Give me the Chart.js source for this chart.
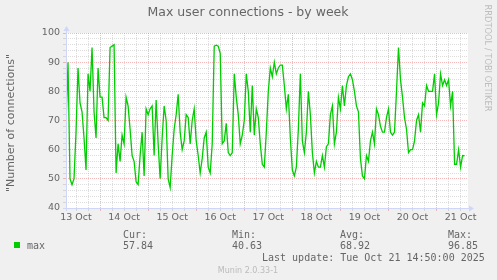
<!DOCTYPE html>
<html>
<head>
<meta charset="utf-8">
<script src="https://cdn.jsdelivr.net/npm/chart.js@4.4.0/dist/chart.umd.min.js"></script>
<style>
  html, body { margin: 0; padding: 0; background: #f0f0f0; }
  #wrap { position: relative; width: 497px; height: 280px; }
</style>
</head>
<body>
<div id="wrap"><canvas id="chart" width="497" height="280"></canvas></div>
<script>
const chartTitle = 'Max user connections - by week';
const yTitle = '"Number of connections"';
const dayLabels = ['13 Oct', '14 Oct', '15 Oct', '16 Oct', '17 Oct', '18 Oct', '19 Oct', '20 Oct', '21 Oct'];

// hourly samples, hours counted from 13 Oct 00:00
const startHour = 7;
const maxValues = [
  68, 90, 50, 48, 50, 66, 88, 76, 73, 64, 53, 86, 80, 95, 73, 64, 88,
  78, 78, 71, 71, 70, 95, 95.5, 96, 52, 62, 56, 65, 62, 78, 75, 67, 58, 56, 49, 48, 58, 66, 51, 74,
  72, 74, 75, 58, 77, 62, 50, 64, 75, 70, 50, 47, 58, 67, 72, 79, 66, 60, 63, 72, 71, 62, 70, 74,
  63, 58, 52, 57, 64, 66, 54, 52, 62, 95.5, 95.8, 95.5, 93, 62, 63, 69, 59, 58, 59, 86, 78, 72, 62, 65,
  70, 86, 80, 66, 82, 65, 74, 71, 62, 55, 54, 66, 80, 88, 85, 90, 86, 88, 89, 89, 82, 74, 79, 64,
  53, 51, 54, 67, 86, 63, 59, 66, 80, 72, 59, 52, 56, 54, 54, 58, 54, 61, 62, 72, 75, 62, 66, 78,
  74, 82, 75, 82, 85, 86, 84, 80, 75, 73, 57, 51, 50, 58, 56, 63, 66, 62, 74, 72, 68, 66, 66, 71,
  74, 66, 65, 66, 80, 95, 84, 78, 71, 67, 59, 60, 60, 63, 70, 72, 66, 76, 75, 82, 80, 80, 80, 86,
  72, 76, 86, 82, 84, 82, 84, 75, 80, 55, 55, 60, 54, 58, 57.84
];
const endHour = 207.7;
const yMin = 40;
const yMax = 100;

const statNames = ['Cur:', 'Min:', 'Avg:', 'Max:'];
const statValues = ['57.84', '40.63', '68.92', '96.85'];
const seriesName = 'max';
const lastUpdate = 'Last update: Tue Oct 21 14:50:00 2025';
const footer = 'Munin 2.0.33-1';
const sideText = 'RRDTOOL / TOBI OETIKER';

const GREEN = '#00cc00';
const FONT_COL = '#666666';
const AXIS_COL = '#cfd6f8';
const MAJOR = 'rgba(240,130,130,0.55)';
const MINOR = 'rgba(170,170,170,0.4)';

const points = maxValues.map((v, i) => ({ x: startHour + i, y: v }));

const muninDecor = {
  id: 'muninDecor',
  beforeDraw(chart) {
    const ctx = chart.ctx, a = chart.chartArea;
    ctx.save();
    ctx.fillStyle = '#f0f0f0';
    ctx.fillRect(0, 0, chart.width, chart.height);
    ctx.fillStyle = '#ffffff';
    ctx.fillRect(a.left, a.top, a.right - a.left, a.bottom - a.top);
    ctx.restore();
  },
  afterDraw(chart) {
    const ctx = chart.ctx, a = chart.chartArea;
    ctx.save();
    // axes with arrows
    ctx.strokeStyle = AXIS_COL;
    ctx.fillStyle = AXIS_COL;
    ctx.lineWidth = 1;
    ctx.beginPath();
    ctx.moveTo(a.left - 3, a.bottom + 0.5);
    ctx.lineTo(a.right + 2, a.bottom + 0.5);
    ctx.moveTo(a.left + 0.5, a.bottom + 3);
    ctx.lineTo(a.left + 0.5, a.top - 3);
    ctx.stroke();
    ctx.beginPath();
    ctx.moveTo(a.right + 6, a.bottom + 0.5);
    ctx.lineTo(a.right + 1, a.bottom - 2.5);
    ctx.lineTo(a.right + 1, a.bottom + 3.5);
    ctx.fill();
    ctx.beginPath();
    ctx.moveTo(a.left + 0.5, a.top - 7);
    ctx.lineTo(a.left - 2.5, a.top - 2);
    ctx.lineTo(a.left + 3.5, a.top - 2);
    ctx.fill();

    // title
    ctx.fillStyle = FONT_COL;
    ctx.font = '12.5px "DejaVu Sans"';
    ctx.textAlign = 'center';
    ctx.textBaseline = 'middle';
    ctx.fillText(chartTitle, 248, 13);

    // y axis title
    ctx.save();
    ctx.translate(11.5, 123);
    ctx.rotate(-Math.PI / 2);
    ctx.font = '11px "DejaVu Sans"';
    ctx.fillText(yTitle, 0, 0);
    ctx.restore();

    // side credit
    ctx.save();
    ctx.translate(487, 58);
    ctx.rotate(Math.PI / 2);
    ctx.fillStyle = '#bdbdbd';
    ctx.font = '8.3px "DejaVu Sans"';
    ctx.fillText(sideText, 0, 0);
    ctx.restore();

    // legend
    ctx.fillStyle = GREEN;
    ctx.fillRect(14, 242, 6, 6);
    ctx.fillStyle = FONT_COL;
    ctx.textAlign = 'left';
    ctx.textBaseline = 'alphabetic';
    ctx.font = '10px "DejaVu Sans Mono"';
    ctx.fillText(seriesName, 27, 249);
    const statX = [123, 232, 340, 448];
    statNames.forEach((n, i) => {
      ctx.fillText(n, statX[i], 237.5);
      ctx.fillText(statValues[i], statX[i], 249);
    });
    ctx.fillText(lastUpdate, 262, 261);

    ctx.fillStyle = '#bbbbbb';
    ctx.font = '8px "DejaVu Sans"';
    ctx.textAlign = 'center';
    ctx.fillText(footer, 248, 272.5);
    ctx.restore();
  }
};

const ctx = document.getElementById('chart').getContext('2d');
new Chart(ctx, {
  type: 'line',
  data: {
    datasets: [{
      label: seriesName,
      data: points,
      borderColor: GREEN,
      borderWidth: 1.3,
      pointRadius: 0,
      tension: 0,
      fill: false
    }]
  },
  options: {
    responsive: false,
    animation: false,
    layout: { padding: { top: 33, right: 29, left: 0, bottom: 0 } },
    plugins: { legend: { display: false }, tooltip: { enabled: false } },
    scales: {
      x: {
        type: 'linear',
        min: startHour,
        max: endHour,
        afterBuildTicks(scale) {
          const t = [];
          for (let h = 12; h <= endHour; h += 6) t.push({ value: h });
          scale.ticks = t;
        },
        afterFit(scale) { scale.height = 72; },
        ticks: {
          autoSkip: false,
          maxRotation: 0,
          padding: 1,
          color: FONT_COL,
          font: { family: 'DejaVu Sans', size: 9.5 },
          callback: v => (v % 24 === 12 ? dayLabels[(v - 12) / 24] : '')
        },
        grid: {
          tickLength: 3,
          lineWidth: 1,
          color: c => (c.tick && c.tick.value % 24 === 0 ? MAJOR : MINOR)
        },
        border: { display: false, dash: [1, 1] }
      },
      y: {
        min: yMin,
        max: yMax,
        afterBuildTicks(scale) {
          const t = [];
          for (let v = yMin; v <= yMax; v += 2) t.push({ value: v });
          scale.ticks = t;
        },
        afterFit(scale) { scale.width = 66; },
        ticks: {
          autoSkip: false,
          padding: 3,
          color: FONT_COL,
          font: { family: 'DejaVu Sans', size: 9.5 },
          callback: v => (v % 10 === 0 ? String(v) : '')
        },
        grid: {
          tickLength: 3,
          lineWidth: 1,
          color: c => (c.tick && c.tick.value % 10 === 0 ? MAJOR : MINOR)
        },
        border: { display: false, dash: [1, 1] }
      }
    }
  },
  plugins: [muninDecor]
});
</script>
</body>
</html>
